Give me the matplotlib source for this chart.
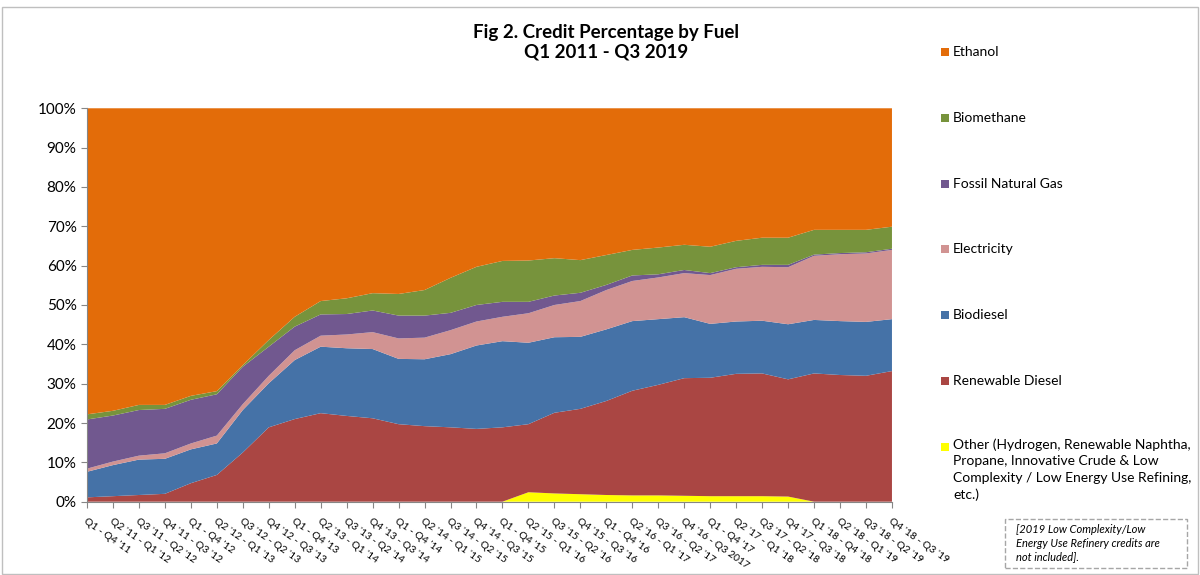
from matplotlib import pyplot as plt
from matplotlib.patches import Rectangle
import numpy as np

plt.rcParams['font.family'] = ['Lato', 'DejaVu Sans']

# periods (rolling four quarters)
periods = ["Q1 - Q4 '11", "Q2 '11 - Q1 '12", "Q3 '11 - Q2 '12", "Q4 '11 - Q3 '12",
           "Q1 - Q4 '12", "Q2 '12 - Q1 '13", "Q3 '12 - Q2 '13", "Q4 '12 - Q3 '13",
           "Q1 - Q4 '13", "Q2 '13 - Q1 '14", "Q3 '13 - Q2 '14", "Q4 '13 - Q3 '14",
           "Q1 - Q4 '14", "Q2 '14 - Q1 '15", "Q3 '14 - Q2 '15", "Q4 '14 - Q3 '15",
           "Q1 - Q4 '15", "Q2 '15 - Q1 '16", "Q3 '15 - Q2 '16", "Q4 '15 - Q3 '16",
           "Q1 - Q4 '16", "Q2 '16 - Q1 '17", "Q3 '16 - Q2 '17", "Q4 '16 - Q3 2017",
           "Q1 - Q4 '17", "Q2 '17 - Q1 '18", "Q3 '17 - Q2 '18", "Q4 '17 - Q3 '18",
           "Q1 '18 - Q4 '18", "Q2 '18 - Q1 '19", "Q3 '18 - Q2 '19", "Q4 '18 - Q3 '19"]

# credit share (%) per fuel
other = [0, 0, 0, 0, 0, 0, 0, 0, 0, 0, 0, 0, 0, 0, 0, 0, 0,
         2.4, 2.1, 1.9, 1.7, 1.6, 1.6, 1.5, 1.4, 1.4, 1.4, 1.3, 0, 0, 0, 0]
renewable_diesel = [1.1, 1.4, 1.7, 2.0, 4.7, 6.8, 12.5, 18.9, 21.0, 22.5, 21.8, 21.2,
                    19.7, 19.2, 18.9, 18.5, 18.9, 17.3, 20.5, 21.7, 23.9, 26.6, 28.1, 29.9,
                    30.1, 31.1, 31.2, 29.8, 32.6, 32.2, 32.0, 33.2]
biodiesel = [6.5, 7.9, 9.0, 8.9, 8.6, 8.0, 10.8, 11.2, 15.0, 16.9, 17.2, 17.6,
             16.6, 17.0, 18.6, 21.2, 21.9, 20.7, 19.2, 18.3, 18.2, 17.7, 16.7, 15.5,
             13.7, 13.3, 13.4, 14.0, 13.6, 13.7, 13.7, 13.2]
electricity = [0.8, 0.9, 1.0, 1.4, 1.5, 2.0, 1.5, 1.9, 2.5, 2.8, 3.5, 4.3,
               5.2, 5.5, 6.1, 6.1, 6.2, 7.5, 8.2, 9.1, 10.0, 10.2, 10.6, 11.2,
               12.4, 13.4, 13.7, 14.5, 16.3, 17.0, 17.4, 17.6]
fossil_gas = [12.5, 11.7, 11.6, 11.3, 11.1, 10.5, 9.5, 7.4, 6.0, 5.4, 5.2, 5.5,
              5.8, 5.6, 4.4, 4.2, 3.8, 2.9, 2.4, 2.1, 1.3, 1.4, 0.8, 0.8,
              0.5, 0.4, 0.5, 0.6, 0.3, 0.3, 0.3, 0.3]
biomethane = [1.3, 1.2, 1.3, 1.0, 1.0, 0.8, 0.4, 1.7, 2.5, 3.4, 4.0, 4.4,
              5.5, 6.5, 8.9, 9.7, 10.4, 10.5, 9.5, 8.3, 7.6, 6.5, 6.8, 6.4,
              6.7, 6.7, 6.9, 6.9, 6.3, 5.9, 5.7, 5.6]
ethanol = [77.8, 76.9, 75.4, 75.4, 73.1, 71.9, 65.3, 58.9, 53.0, 49.0, 48.3, 47.0,
           47.2, 46.2, 43.1, 40.3, 38.8, 38.7, 38.1, 38.6, 37.3, 36.0, 35.4, 34.7,
           35.2, 33.7, 32.9, 32.9, 30.9, 30.9, 30.9, 30.1]

series = [other, renewable_diesel, biodiesel, electricity, fossil_gas, biomethane, ethanol]
colors = ['#FFFF00', '#AA4643', '#4572A7', '#D19392', '#71588F', '#77933C', '#E36C09']
labels = ['Other (Hydrogen, Renewable Naphtha,\nPropane, Innovative Crude & Low\n'
          'Complexity / Low Energy Use Refining,\netc.)',
          'Renewable Diesel', 'Biodiesel', 'Electricity', 'Fossil Natural Gas',
          'Biomethane', 'Ethanol']

vals = np.array(series, dtype=float)
vals = vals / vals.sum(axis=0) * 100.0   # 100% stacked
x = np.arange(len(periods))

fig = plt.figure(figsize=(12, 5.75), dpi=100)
ax = fig.add_axes([0.0725, 0.1275, 0.6708, 0.6842])
ax.stackplot(x, vals, colors=colors, linewidth=0)

ax.set_xlim(0, len(periods) - 1)
ax.set_ylim(0, 100)
ax.set_yticks(np.arange(0, 101, 10))
ax.set_yticklabels(['%d%%' % v for v in range(0, 101, 10)], fontsize=11)
ax.set_xticks(x)
ax.set_xticklabels(periods, rotation=-35, ha='left', va='top',
                   rotation_mode='anchor', fontsize=7.5)
for sp in ['top', 'right']:
    ax.spines[sp].set_visible(False)
for sp in ['left', 'bottom']:
    ax.spines[sp].set_color('#868686')
ax.tick_params(axis='both', colors='#868686', labelcolor='black', length=4)
ax.tick_params(axis='x', pad=7)

fig.text(0.505, 0.958, 'Fig 2. Credit Percentage by Fuel\nQ1 2011 - Q3 2019',
         ha='center', va='top', fontsize=13.5, fontweight='bold', linespacing=1.2)

# legend on the right, spaced like the original
leg_y = [52, 118, 184, 249, 315, 381, 447]
for i, yy in enumerate(leg_y):
    k = len(series) - 1 - i
    fig.patches.append(Rectangle((941 / 1200, 1 - (yy + 4) / 575), 8 / 1200, 8 / 575,
                                 transform=fig.transFigure, facecolor=colors[k],
                                 edgecolor='none'))
    if k == 0:
        fig.text(953 / 1200, 1 - (yy - 9) / 575, labels[k], ha='left', va='top',
                 fontsize=10, linespacing=1.45)
    else:
        fig.text(953 / 1200, 1 - yy / 575, labels[k], ha='left', va='center',
                 fontsize=10)

# footnote box
fig.patches.append(Rectangle((1005 / 1200, 1 - 568 / 575), 182 / 1200, 49 / 575,
                             transform=fig.transFigure, facecolor='white',
                             edgecolor='#A6A6A6', linestyle='--', linewidth=1))
fig.text(1016 / 1200, 1 - 524 / 575,
         '[2019 Low Complexity/Low\nEnergy Use Refinery credits are\nnot included].',
         ha='left', va='top', fontsize=8, style='italic', linespacing=1.3)

# chart border
fig.patches.append(Rectangle((0.002, 0.002), 0.996, 1 - 7 / 575 - 0.002,
                             transform=fig.transFigure, facecolor='none',
                             edgecolor='#BFBFBF', linewidth=1))

fig.savefig('out.png', dpi=100)
